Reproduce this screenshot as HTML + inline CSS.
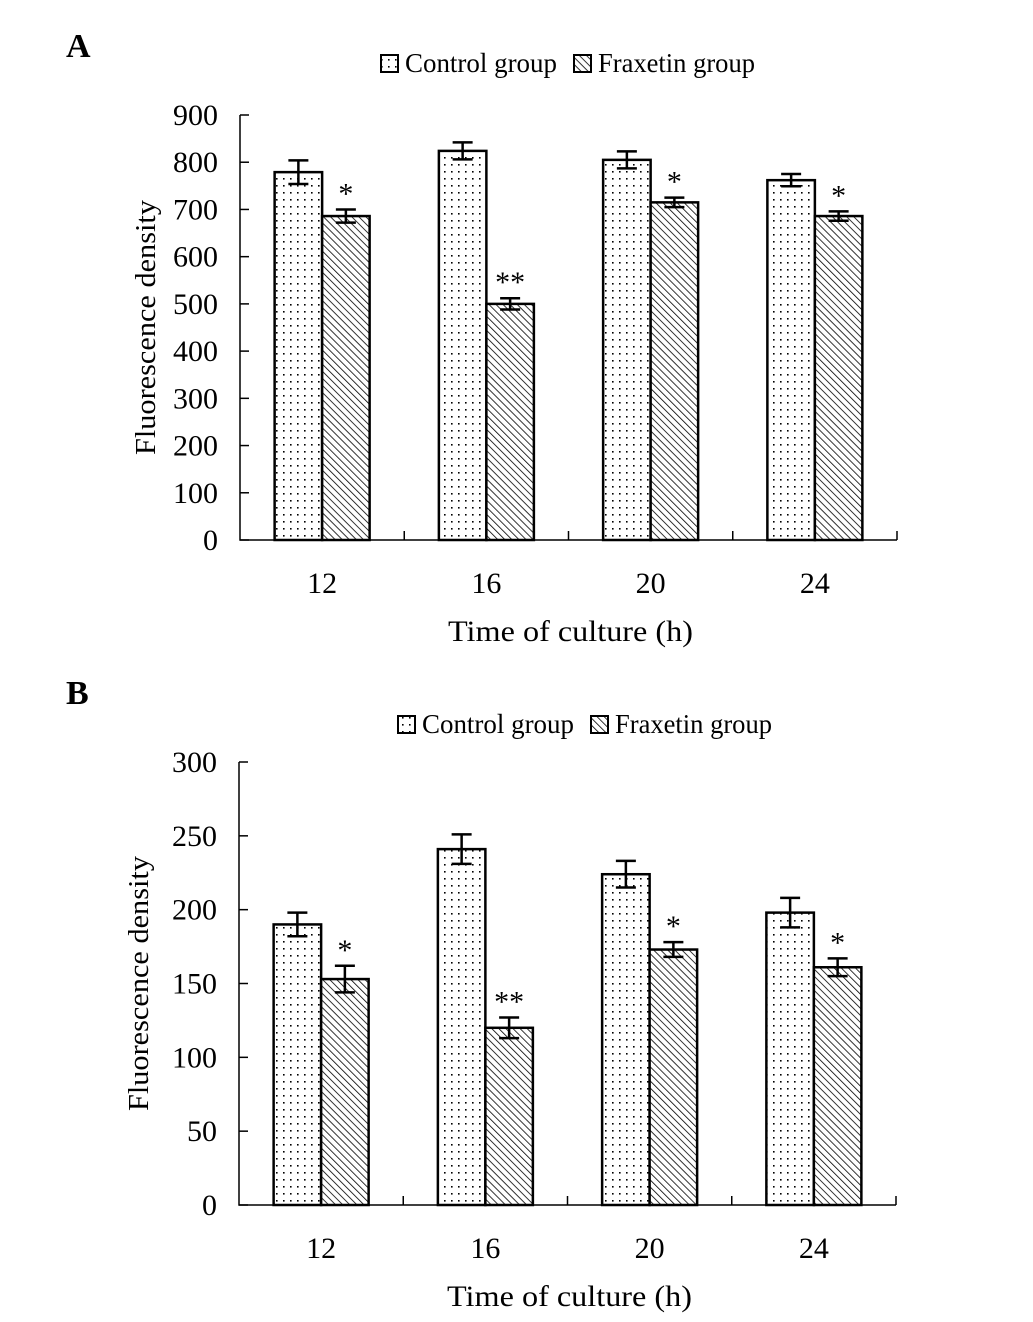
<!DOCTYPE html>
<html><head><meta charset="utf-8"><style>
html,body{margin:0;padding:0;background:#fff;}
svg text{font-family:"Liberation Serif",serif;fill:#000;}
</style></head><body>
<svg id="s" width="1033" height="1317" xmlns="http://www.w3.org/2000/svg">
<defs>
<pattern id="dots" width="7" height="7" patternUnits="userSpaceOnUse"><rect width="7" height="7" fill="#fff"/><rect x="3" y="3" width="1.6" height="1.6" fill="#000"/></pattern>
<pattern id="hatch" width="5" height="5" patternUnits="userSpaceOnUse" patternTransform="rotate(-45)"><rect width="5" height="5" fill="#fff"/><line x1="0" y1="0" x2="0" y2="5" stroke="#000" stroke-width="1.6"/></pattern>
</defs>
</svg>
<script>
const categories=["12","16","20","24"];
const controlA=[779,824,805,762];
const controlAErr=[25,18,18,13];
const fraxA=[686,500,715,686];
const fraxAErr=[14,12,10,10];
const sigA=["*","**","*","*"];
const ticksA=[0,100,200,300,400,500,600,700,800,900];
const controlB=[190,241,224,198];
const controlBErr=[8,10,9,10];
const fraxB=[153,120,173,161];
const fraxBErr=[9,7,5,6];
const sigB=["*","**","*","*"];
const ticksB=[0,50,100,150,200,250,300];

const svg=document.getElementById('s');
const NS="http://www.w3.org/2000/svg";
function mk(tag,attrs,parent){const e=document.createElementNS(NS,tag);for(const k in attrs)e.setAttribute(k,attrs[k]);(parent||svg).appendChild(e);return e;}

function panel(o){
  const g=mk('g',{});
  
  
  const x0=o.x0,x1=o.x1,yb=o.yb,yt=o.yt,max=o.ticks[o.ticks.length-1];
  const y=v=>yb-(v/max)*(yb-yt);
  const bw=(x1-x0)/categories.length;
  const t=mk('text',{x:66,y:o.labelY,'font-size':34,'font-weight':'bold'},g);t.textContent=o.label;
  
  
  const lg=mk('g',{},g);
  
  
  mk('rect',{x:o.legX,y:o.legY-17,width:17,height:17,fill:'url(#dots)',stroke:'#000','stroke-width':2},lg);
  let lt=mk('text',{x:o.legX+24,y:o.legY,'font-size':27,textLength:152,lengthAdjust:'spacingAndGlyphs'},lg);lt.textContent="Control group";
  
  
  mk('rect',{x:o.legX+193,y:o.legY-17,width:17,height:17,fill:'url(#hatch)',stroke:'#000','stroke-width':2},lg);
  lt=mk('text',{x:o.legX+217,y:o.legY,'font-size':27,textLength:157,lengthAdjust:'spacingAndGlyphs'},lg);lt.textContent="Fraxetin group";
  
  
  const ax=mk('path',{d:`M${x0},${yt} V${yb} H${x1}`,stroke:'#000','stroke-width':1.5,fill:'none'},g);
  
  
  o.ticks.forEach(v=>{
    mk('line',{x1:x0,x2:x0+9,y1:y(v),y2:y(v),stroke:'#000','stroke-width':1.5},g);
    const tl=mk('text',{x:x0-22,y:y(v)+10,'font-size':30,'text-anchor':'end'},g);tl.textContent=v;
    
    
  });
  for(let k=1;k<=categories.length;k++){mk('line',{x1:x0+bw*k,x2:x0+bw*k,y1:yb,y2:yb-9,stroke:'#000','stroke-width':1.5},g);}
  categories.forEach((c,i)=>{
    const cx=x0+bw*(i+0.5);
    const xl=mk('text',{x:cx,y:yb+53,'font-size':30,'text-anchor':'middle'},g);xl.textContent=c;
    
    
    const w=47.5;
    [[o.ctrl,o.ctrlErr,'url(#dots)',cx-w,'bar-control'],[o.frax,o.fraxErr,'url(#hatch)',cx,'bar-fraxetin']].forEach(([vals,errs,fill,bx,nm])=>{
      const r=mk('rect',{x:bx,y:y(vals[i]),width:w,height:yb-y(vals[i]),fill:fill,stroke:'#000','stroke-width':2.5},g);
      
      
      const mx=bx+w/2,hi=y(vals[i]+errs[i]),lo=y(vals[i]-errs[i]);
      const eb=mk('path',{d:`M${mx},${hi}V${lo}M${mx-10},${hi}H${mx+10}M${mx-10},${lo}H${mx+10}`,stroke:'#000','stroke-width':2.5,fill:'none'},g);
      
      
    });
    const st=mk('text',{x:cx+w/2,y:y(o.frax[i]+o.fraxErr[i])-6,'font-size':30,'text-anchor':'middle'},g);st.textContent=o.sig[i];
    
    
  });
  const xt=mk('text',{x:(x0+x1)/2+2,y:yb+101,'font-size':30,'text-anchor':'middle',textLength:245,lengthAdjust:'spacingAndGlyphs'},g);xt.textContent="Time of culture (h)";
  
  
  const cy=(yt+yb)/2;
  const yl=mk('text',{x:o.ytX,y:cy,'font-size':29,'text-anchor':'middle',textLength:255,lengthAdjust:'spacingAndGlyphs',transform:`rotate(-90 ${o.ytX} ${cy})`},g);yl.textContent="Fluorescence density";
  
  
}
panel({label:'A',labelY:57,legX:381,legY:72,x0:240,x1:897,yb:540,yt:115,ticks:ticksA,ctrl:controlA,ctrlErr:controlAErr,frax:fraxA,fraxErr:fraxAErr,sig:sigA,ytX:155});
panel({label:'B',labelY:704,legX:398,legY:733,x0:239,x1:896,yb:1205,yt:762,ticks:ticksB,ctrl:controlB,ctrlErr:controlBErr,frax:fraxB,fraxErr:fraxBErr,sig:sigB,ytX:148});
</script>
</body></html>
